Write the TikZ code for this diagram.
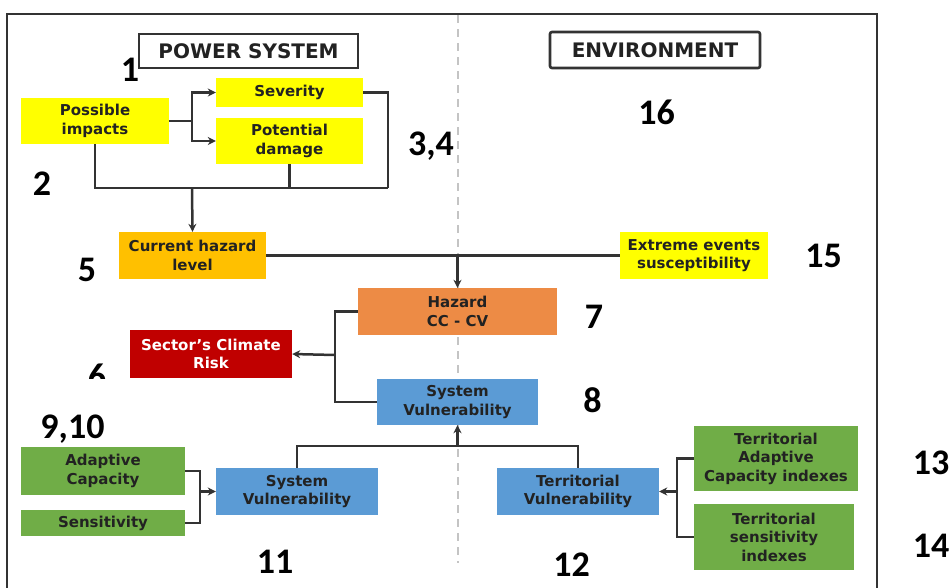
\documentclass[tikz,border=0pt]{standalone}
\usepackage{fontspec}
\setmainfont{DejaVu Sans}
\newfontfamily\numfont{Carlito}
\usetikzlibrary{arrows.meta}
\definecolor{ylw}{HTML}{FFFF00}
\definecolor{amber}{HTML}{FFC000}
\definecolor{hzorange}{HTML}{ED8B45}
\definecolor{riskred}{HTML}{C00000}
\definecolor{vblue}{HTML}{5B9BD5}
\definecolor{lgreen}{HTML}{70AD47}
\definecolor{txt}{HTML}{222222}
\definecolor{lin}{HTML}{333333}
\definecolor{divgrey}{HTML}{C4C4C4}
\begin{document}
\begin{tikzpicture}[x=1pt,y=-1pt,
  box/.style={draw=none, inner sep=0pt, align=center, text=txt,
    font=\bfseries\fontsize{15}{18.5}\selectfont},
  titlebox/.style={draw=lin, line width=1.6pt, inner sep=0pt, text=txt,
    font=\bfseries\fontsize{20}{22}\selectfont},
  num/.style={inner sep=0pt, text=black, font=\numfont\bfseries\fontsize{36}{36}\selectfont},
  conn/.style={draw=lin, line width=2.5pt},
  arr/.style={conn, -{Stealth[length=8pt,width=8pt]}}]
\useasboundingbox (0,0) rectangle (952,587);
% frame and divider
\draw[lin, line width=1.6pt] (7,590) -- (7,14) -- (877,14) -- (877,590);
\draw[divgrey, line width=2.2pt, dash pattern=on 8pt off 6pt] (458,15) -- (458,563);
% titles
\node[titlebox, minimum width=219pt, minimum height=34pt] (ps) at (248.5,51) {POWER SYSTEM};
\node[titlebox, line width=2.6pt, rounded corners=2pt, minimum width=210pt, minimum height=36pt] (env) at (655,50) {ENVIRONMENT};
% boxes
\node[box, fill=ylw, minimum width=148pt, minimum height=46pt] (poss) at (95,121) {Possible\\impacts};
\node[box, fill=ylw, minimum width=147pt, minimum height=29pt] (sev) at (289.5,92.5) {Severity};
\node[box, fill=ylw, minimum width=147pt, minimum height=46pt] (pot) at (289.5,141) {Potential\\damage};
\node[box, fill=amber, minimum width=147pt, minimum height=47pt] (cur) at (192.5,255.5) {Current hazard\\level};
\node[box, fill=ylw, minimum width=148pt, minimum height=47pt] (ext) at (694,255.5) {Extreme events\\susceptibility};
\node[box, fill=hzorange, minimum width=199pt, minimum height=47pt] (haz) at (457.5,311.5) {Hazard\\CC - CV};
\node[box, fill=riskred, text=white, minimum width=162pt, minimum height=48pt] (risk) at (211,354) {Sector's Climate\\Risk};
\node[box, fill=vblue, minimum width=161pt, minimum height=46pt] (sv8) at (457.5,402) {System\\Vulnerability};
\node[box, fill=lgreen, minimum width=164pt, minimum height=48pt] (ada) at (103,471) {Adaptive\\Capacity};
\node[box, fill=lgreen, minimum width=164pt, minimum height=26pt] (sen) at (103,523) {Sensitivity};
\node[box, fill=vblue, minimum width=162pt, minimum height=47pt] (sv11) at (297,491.5) {System\\Vulnerability};
\node[box, fill=vblue, minimum width=162pt, minimum height=47pt] (tv) at (578,491.5) {Territorial\\Vulnerability};
\node[box, fill=lgreen, minimum width=164pt, minimum height=65pt] (tac) at (776,458.5) {Territorial\\Adaptive\\Capacity indexes};
\node[box, fill=lgreen, minimum width=160pt, minimum height=66pt] (tsi) at (774,537) {Territorial\\sensitivity\\indexes};
% junctions
\coordinate (j1) at (192,121);
\coordinate (j2) at (192,188);
\coordinate (j2r) at (388,188);
\coordinate (j3) at (457.5,255.5);
\coordinate (j4) at (335,355);
\coordinate (j5) at (457.5,446);
\coordinate (j6) at (200,491.5);
\coordinate (j7) at (677,491.5);
% connectors
\draw[conn] (poss.east) -- (j1);
\draw[arr] (j1) |- (sev.west);
\draw[arr] (j1) |- (pot.west);
\draw[conn] (poss.south) |- (j2r);
\draw[conn] (sev.east) -| (j2r);
\draw[conn] (pot.south) -- (pot.south |- j2);
\draw[arr] (j2) -- (cur.north);
\draw[conn] (cur.east) -- (ext.west);
\draw[arr] (j3) -- (haz.north);
\draw[conn] (haz.west) -| (j4);
\draw[conn] (sv8.west) -| (j4);
\draw[arr] (j4) -- (risk.east);
\draw[conn] (sv11.north) |- (tv.north |- j5) -- (tv.north);
\draw[arr] (j5) -- (sv8.south);
\draw[conn] (ada.east) -| (j6);
\draw[conn] (sen.east) -| (j6);
\draw[arr] (j6) -- (sv11.west);
\draw[conn] (tac.west) -| (j7);
\draw[conn] (tsi.west) -| (j7);
\draw[arr] (j7) -- (tv.east);
% numbers
\node[num] (n1) at (130,70) {1};
\node[num] (n2) at (42,184) {2};
\node[num] (n34) at (431,146.5) {3,4};
\node[num] (n5) at (87,270) {5};
\node[num] (n16) at (656.5,112.5) {16};
\node[num] (n15) at (823.5,256) {15};
\node[num] (n7) at (594,317) {7};
\begin{scope}
\clip (60,340) rectangle (128,378);
\node[num] (n6) at (97,376) {6};
\end{scope}
\node[num] (n8) at (592.5,400) {8};
\node[num] (n910) at (72.5,429) {9,10};
\node[num] (n11) at (275,561.5) {11};
\node[num] (n12) at (571.5,565) {12};
\node[num] (n13) at (931,462.5) {13};
\node[num] (n14) at (931,545.5) {14};
\end{tikzpicture}
\end{document}
